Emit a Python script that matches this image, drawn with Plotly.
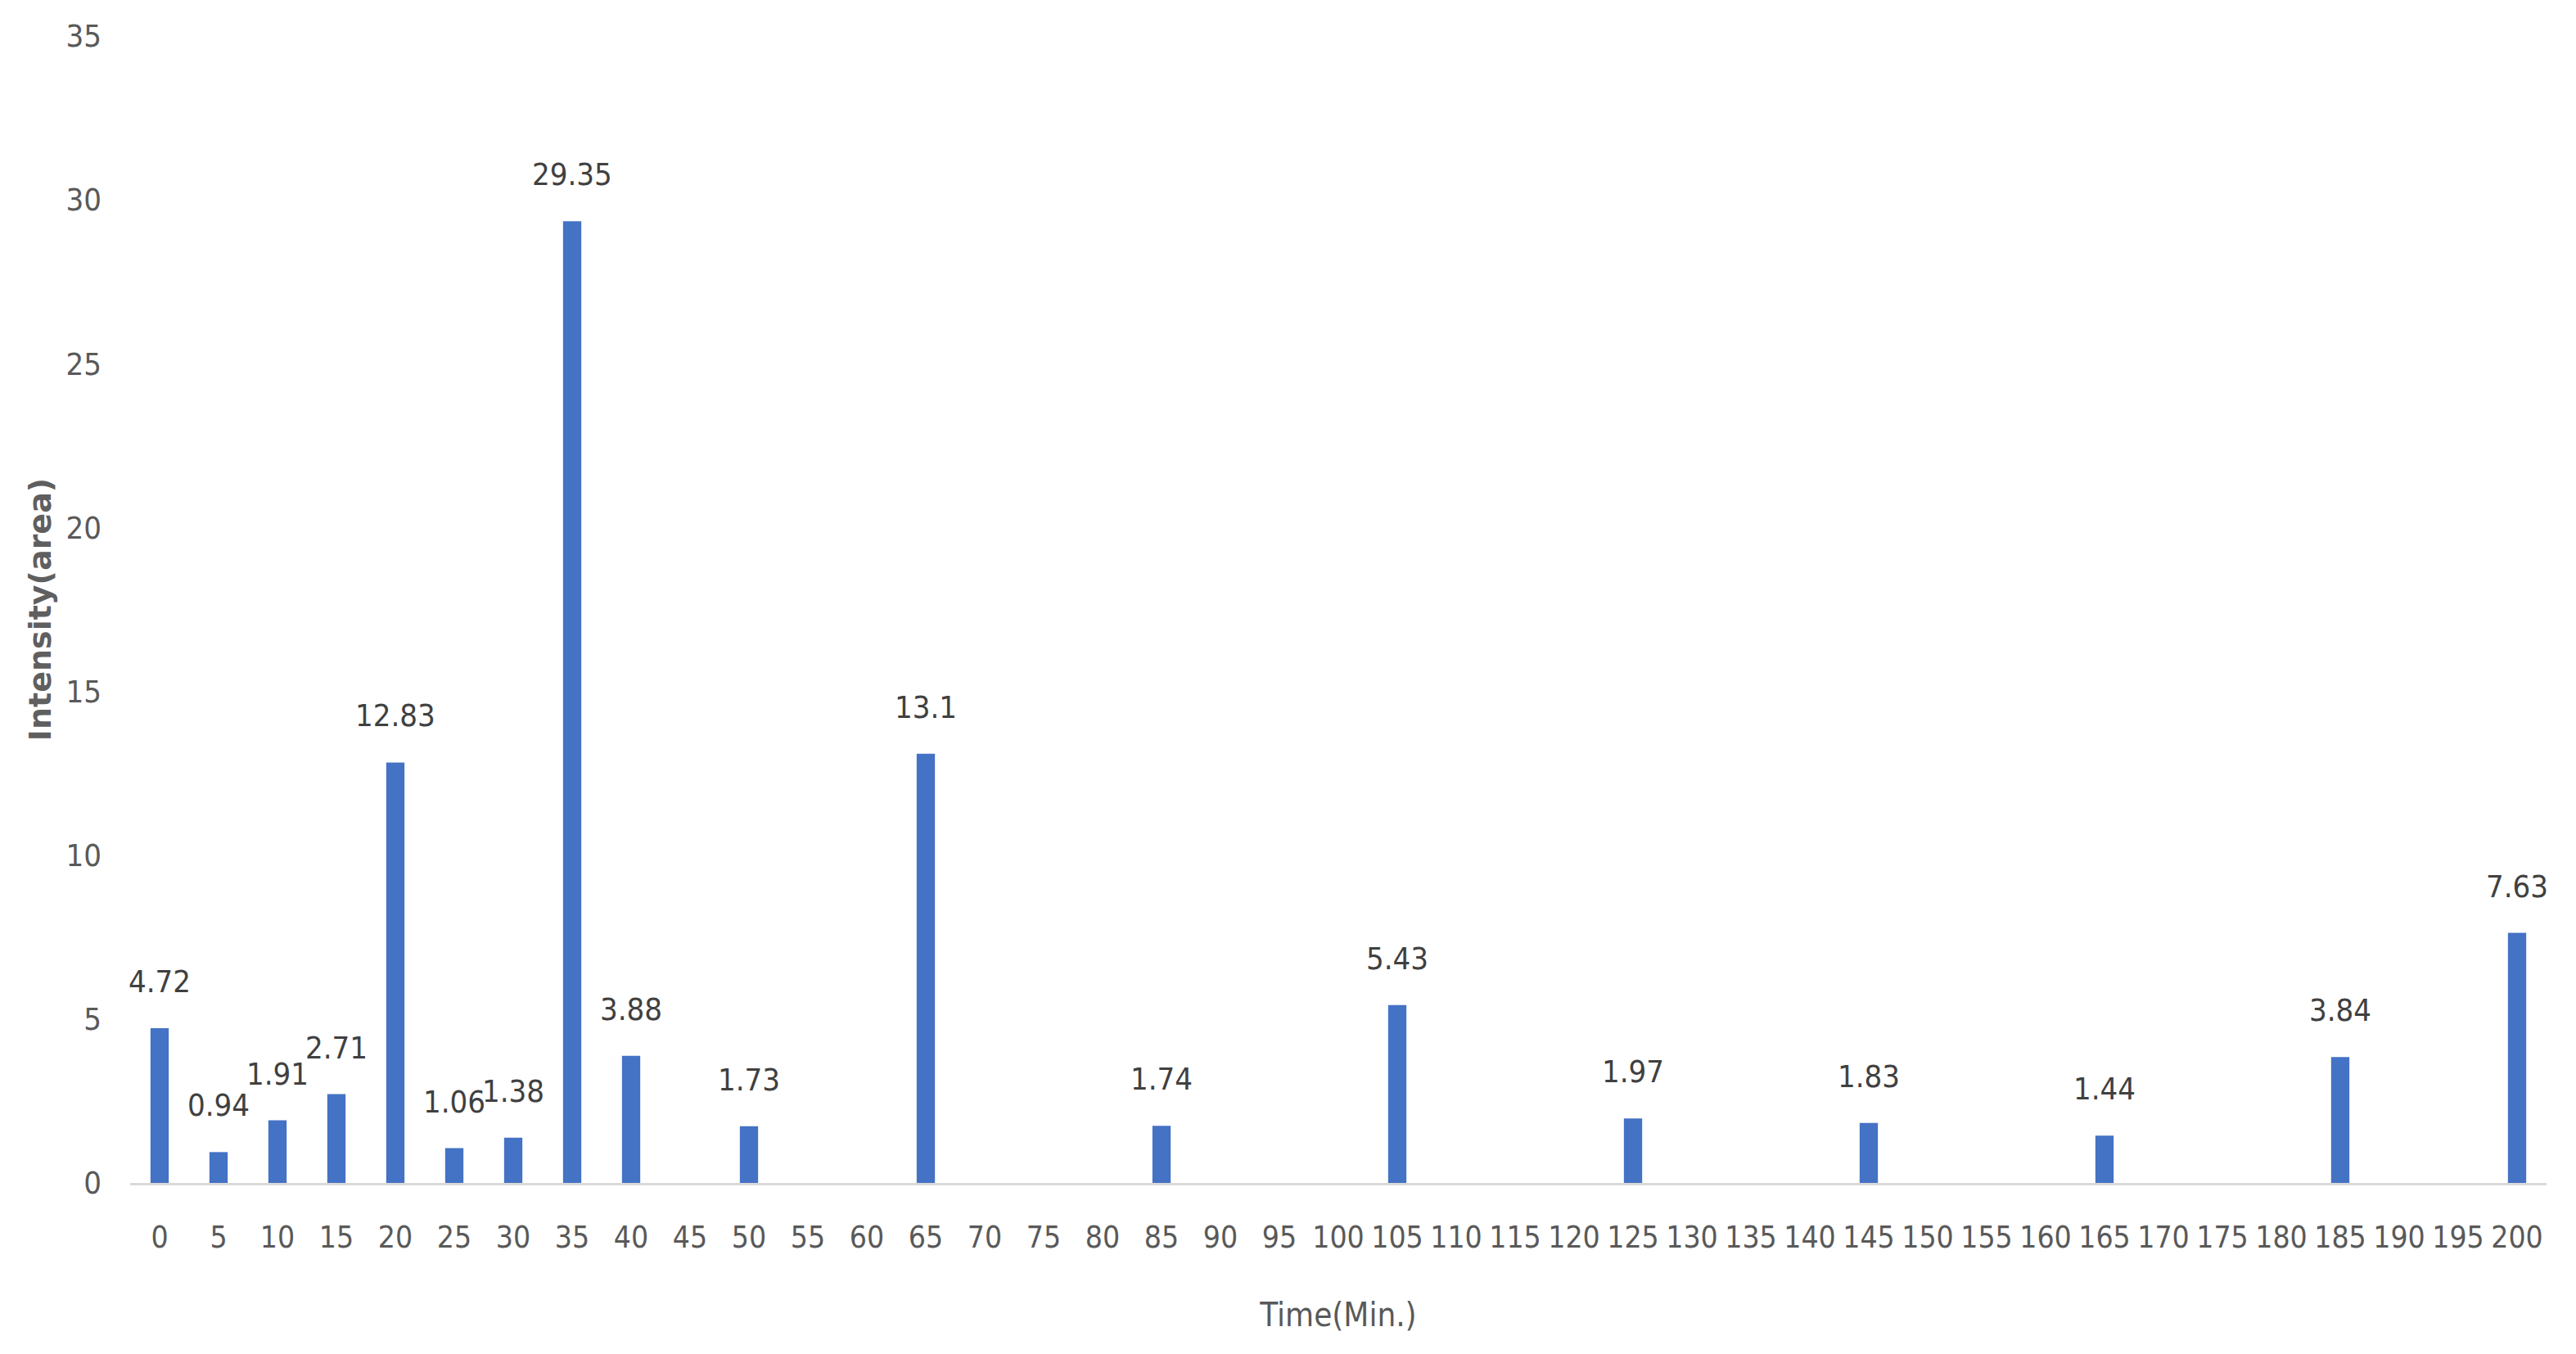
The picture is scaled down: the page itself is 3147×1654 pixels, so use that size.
import plotly.graph_objects as go

# ---- data ----
all_times = ["0", "5", "10", "15", "20", "25", "30", "35", "40", "45", "50", "55", "60",
             "65", "70", "75", "80", "85", "90", "95", "100", "105", "110", "115", "120",
             "125", "130", "135", "140", "145", "150", "155", "160", "165", "170", "175",
             "180", "185", "190", "195", "200"]
bar_times = ["0", "5", "10", "15", "20", "25", "30", "35", "40", "50", "65", "85",
             "105", "125", "145", "165", "185", "200"]
intensity = [4.72, 0.94, 1.91, 2.71, 12.83, 1.06, 1.38, 29.35, 3.88, 1.73, 13.1, 1.74,
             5.43, 1.97, 1.83, 1.44, 3.84, 7.63]
labels = ["4.72", "0.94", "1.91", "2.71", "12.83", "1.06", "1.38", "29.35", "3.88", "1.73",
          "13.1", "1.74", "5.43", "1.97", "1.83", "1.44", "3.84", "7.63"]
y_ticks = [0, 5, 10, 15, 20, 25, 30, 35]

NARROW = "Liberation Sans Narrow, Arial Narrow, DejaVu Sans Condensed, sans-serif"

fig = go.Figure()
fig.add_trace(go.Bar(
    x=bar_times, y=intensity, width=0.31,
    marker=dict(color="#4472C4", line=dict(width=0)),
    hoverinfo="x+y",
))

for t, v, lab in zip(bar_times, intensity, labels):
    fig.add_annotation(x=all_times.index(t), y=v, xref="x", yref="y",
                       text=lab, showarrow=False, yshift=57,
                       xanchor="center", yanchor="middle",
                       font=dict(family=NARROW, size=38, color="#404040"))

fig.update_layout(
    width=3147, height=1654,
    margin=dict(l=159, r=36, t=44, b=209),
    paper_bgcolor="white", plot_bgcolor="white",
    showlegend=False,
    xaxis=dict(
        type="category", categoryorder="array", categoryarray=all_times,
        range=[-0.5, len(all_times) - 0.5],
        showline=True, linecolor="#D9D9D9", linewidth=3,
        showgrid=False, ticks="", zeroline=False,
        tickfont=dict(family=NARROW, size=37, color="#595959"),
        ticklabelstandoff=32,
        title=dict(text="Time(Min.)", standoff=60,
                   font=dict(family=NARROW, size=40, color="#595959")),
    ),
    yaxis=dict(
        range=[0, 35], tickvals=y_ticks, ticktext=[str(v) for v in y_ticks],
        showline=False, showgrid=False, zeroline=False, ticks="",
        tickfont=dict(family=NARROW, size=38, color="#595959"),
        ticklabelstandoff=34,
        title=dict(text="Intensity(area)", standoff=6,
                   font=dict(family="DejaVu Sans, sans-serif", size=38,
                             color="#5f5f5f", weight="bold")),
    ),
)

fig.write_html("out.html", config={"displayModeBar": False},
               post_script="document.body.style.margin='0';document.body.style.overflow='hidden';")
